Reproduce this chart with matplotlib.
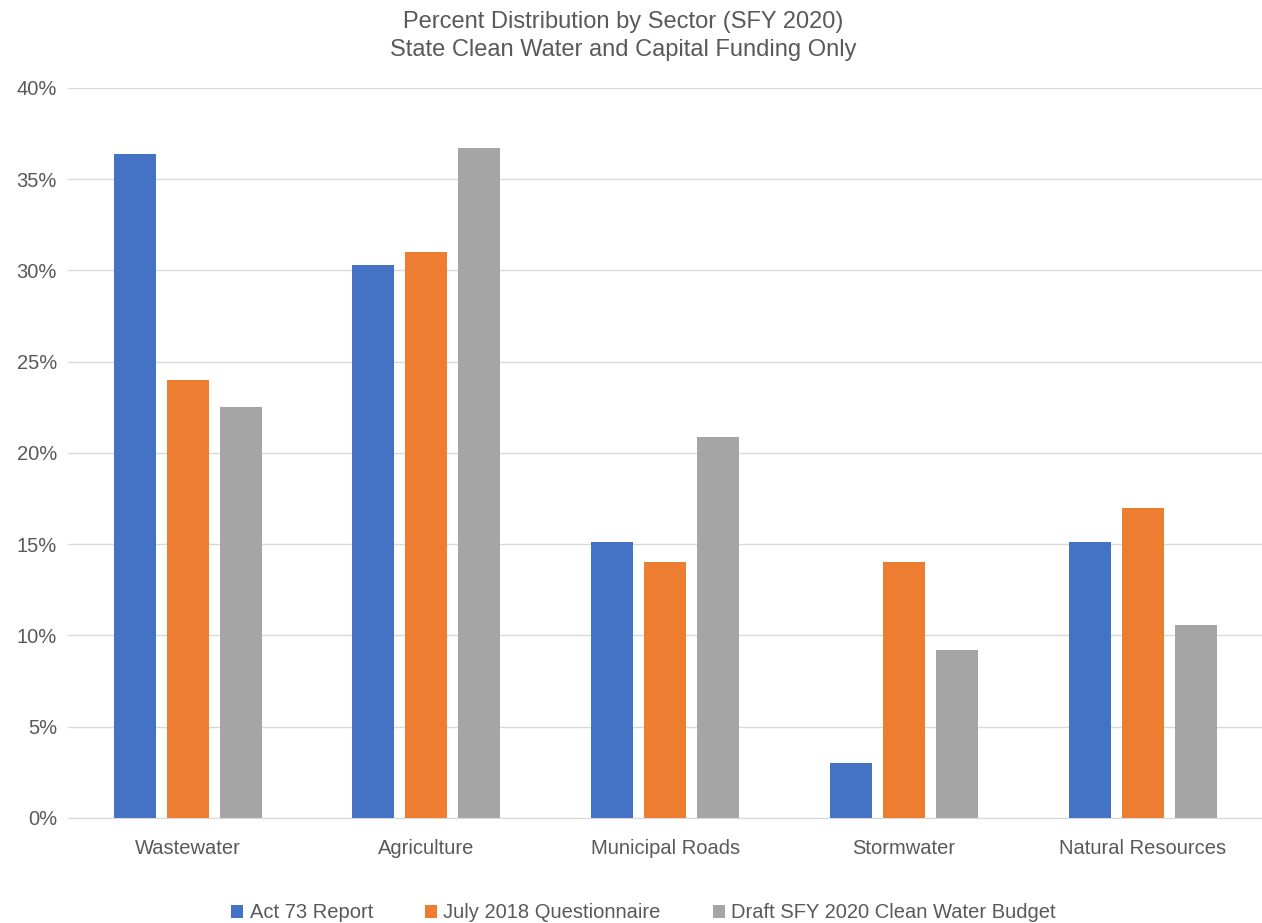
import numpy as np
import matplotlib.pyplot as plt
from matplotlib.ticker import PercentFormatter

sectors = ["Wastewater", "Agriculture", "Municipal Roads", "Stormwater", "Natural Resources"]
act73 = [36.4, 30.3, 15.1, 3.0, 15.1]
july2018 = [24.0, 31.0, 14.0, 14.0, 17.0]
draft2020 = [22.5, 36.7, 20.9, 9.2, 10.6]
series_names = ["Act 73 Report", "July 2018 Questionnaire", "Draft SFY 2020 Clean Water Budget"]
colors = ["#4472C4", "#ED7D31", "#A5A5A5"]

plt.rcParams['font.family'] = ['Liberation Sans', 'DejaVu Sans']
text_color = "#595959"

fig = plt.figure(figsize=(12.62, 9.23), dpi=100)
ax = fig.add_axes([0.054, 0.1138, 0.946, 0.7909])

x = np.arange(len(sectors))
width = 0.176
step = 0.222
for i, (vals, name, c) in enumerate(zip([act73, july2018, draft2020], series_names, colors)):
    ax.bar(x + (i - 1) * step, vals, width, color=c, label=name, zorder=3)

ax.set_xlim(-0.5, len(sectors) - 0.5)
ax.set_ylim(0, 40)
ax.set_yticks(np.arange(0, 41, 5))
ax.yaxis.set_major_formatter(PercentFormatter(decimals=0))
ax.set_xticks(x)
ax.set_xticklabels(sectors)
ax.grid(axis='y', color="#D9D9D9", linewidth=1, zorder=0)
for s in ['top', 'right', 'left']:
    ax.spines[s].set_visible(False)
ax.spines['bottom'].set_color("#D9D9D9")
ax.tick_params(axis='both', length=0, labelsize=14.5, colors=text_color)
ax.tick_params(axis='x', pad=15)
ax.tick_params(axis='y', pad=8)

fig.text(0.494, 0.9885, "Percent Distribution by Sector (SFY 2020)\nState Clean Water and Capital Funding Only",
         ha='center', va='top', fontsize=17, color=text_color, linespacing=1.35)

fig.legend(loc='center', bbox_to_anchor=(0.51, 0.011), ncol=3, frameon=False,
           fontsize=14.5, labelcolor=text_color, handlelength=0.6, handleheight=0.6,
           handletextpad=0.3, columnspacing=2.6, borderpad=0)

fig.savefig("out.png", dpi=100)
